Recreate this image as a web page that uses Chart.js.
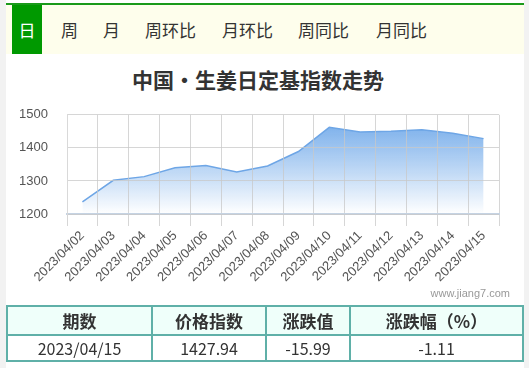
<!DOCTYPE html>
<html>
<head>
<meta charset="utf-8">
<script src="https://cdn.jsdelivr.net/npm/chart.js@4"></script>
<style>
  body { margin: 0; width: 529px; height: 368px; background: #f2f2f2; overflow: hidden; position: relative;
         font-family: "Microsoft YaHei", "Noto Sans CJK SC", sans-serif; color: #333; }
  .abs { position: absolute; }
  #page { left: 6px; top: 0; width: 518px; height: 368px; background: #fff; }
  #tabs { left: 6px; top: 3px; width: 518px; height: 49px; border-top: 2px solid #1a9a1a; background: #fefeec; }
  .tab { position: absolute; top: 0; height: 49px; line-height: 50px; font-size: 17px; color: #333; }
  .tab.on { background: #009900; color: #fff; width: 30px; text-align: center; }
  #title { left: 6px; top: 66px; width: 504px; text-align: center; font-size: 21px; font-weight: bold; color: #333; line-height: 26px; }
  #box { left: 0; top: 88px; width: 529px; height: 207px; }
  #site { left: 400px; top: 287px; width: 110px; text-align: right; font-size: 11px; color: #999; font-family: "Liberation Sans", Arial, sans-serif; }
  table { position: absolute; left: 6px; top: 305px; width: 516px; border-collapse: collapse; table-layout: fixed; }
  td, th { border: 2px solid #5fb0a8; text-align: center; padding: 0; }
  th { background: #effffa; height: 27px; font-size: 17px; font-weight: bold; color: #333; }
  td { height: 24px; font-size: 16px; color: #333; background: #fff; }
</style>
</head>
<body>
<div id="page" class="abs"></div>
<div id="tabs" class="abs">
  <div class="tab on" style="left:6px">日</div>
  <div class="tab" style="left:55px">周</div>
  <div class="tab" style="left:97px">月</div>
  <div class="tab" style="left:139px">周环比</div>
  <div class="tab" style="left:216px">月环比</div>
  <div class="tab" style="left:292px">周同比</div>
  <div class="tab" style="left:370px">月同比</div>
</div>
<div id="title" class="abs">中国·生姜日定基指数走势</div>
<div id="box" class="abs"><canvas id="chart"></canvas></div>
<div id="site" class="abs">www.jiang7.com</div>
<table>
  <colgroup><col style="width:145px"><col style="width:114px"><col style="width:84px"><col style="width:173px"></colgroup>
  <tr><th>期数</th><th>价格指数</th><th>涨跌值</th><th>涨跌幅（%）</th></tr>
  <tr><td>2023/04/15</td><td>1427.94</td><td>-15.99</td><td>-1.11</td></tr>
</table>
<script>
const dates = ['2023/04/02', '2023/04/03', '2023/04/04', '2023/04/05', '2023/04/06', '2023/04/07', '2023/04/08',
               '2023/04/09', '2023/04/10', '2023/04/11', '2023/04/12', '2023/04/13', '2023/04/14', '2023/04/15'];
const indexValues = [1237, 1302, 1313, 1340, 1347, 1327, 1345, 1389, 1462, 1448, 1450, 1455, 1443.93, 1427.94];
const yTicks = [1200, 1300, 1400, 1500];

const ctx = document.getElementById('chart').getContext('2d');

// blue at the top of the plot, fading to white at the bottom
function areaFill(context) {
  const area = context.chart.chartArea;
  if (!area) return 'rgba(110,166,230,0.6)';
  const g = context.chart.ctx.createLinearGradient(0, area.top, 0, area.bottom);
  g.addColorStop(0, 'rgba(104,164,232,0.95)');
  g.addColorStop(1, 'rgba(255,255,255,1)');
  return g;
}

new Chart(ctx, {
  type: 'line',
  data: {
    labels: dates,
    datasets: [{
      data: indexValues,
      borderColor: '#6ea6e6',
      borderWidth: 1.5,
      backgroundColor: areaFill,
      fill: 'start',
      pointRadius: 0,
      tension: 0
    }]
  },
  options: {
    responsive: true,
    maintainAspectRatio: false,
    animation: false,
    layout: { padding: { left: 0, right: 30, top: 0, bottom: 0 } },
    plugins: { legend: { display: false }, tooltip: { enabled: false } },
    scales: {
      x: {
        offset: true,
        grid: { color: 'rgba(200,200,200,0.75)', lineWidth: 1, offset: true, tickLength: 12, z: 1 },
        border: { color: '#c5d3e3', width: 2, z: 1 },
        ticks: { minRotation: 45, maxRotation: 45, padding: 2, color: '#555', font: { size: 13 } },
        afterFit: s => { s.height = 81; }
      },
      y: {
        min: 1200,
        max: 1500,
        afterBuildTicks: s => { s.ticks = yTicks.map(v => ({ value: v })); },
        grid: { color: 'rgba(200,200,200,0.75)', lineWidth: 1, drawTicks: false, z: 1 },
        border: { color: '#d9d9d9', z: 1 },
        ticks: { padding: 19, color: '#555', font: { size: 13 }, callback: v => String(v) },
        afterFit: s => { s.width = 67; }
      }
    }
  }
});
</script>
</body>
</html>
